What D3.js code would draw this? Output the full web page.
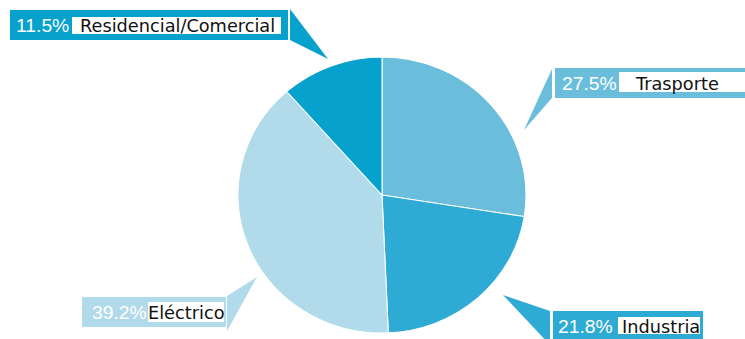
<!DOCTYPE html>
<html>
<head>
<meta charset="utf-8">
<script src="https://cdn.jsdelivr.net/npm/d3@7"></script>
<style>
  html, body { margin: 0; padding: 0; background: #fff; }
  svg { display: block; }
</style>
</head>
<body>
<svg id="chart" width="745" height="339"></svg>
<script>
// Energy use by sector, share of total (%)
const categories = ["Trasporte", "Industria", "Eléctrico", "Residencial/Comercial"];
const shares = [27.5, 21.8, 39.2, 11.5];
const percentLabels = ["27.5%", "21.8%", "39.2%", "11.5%"];
const sliceColors = ["#6bbddc", "#2eabd5", "#b1daeb", "#06a2cd"];

// Callout geometry: coloured box, white name box, text anchors, pointer tip
const callouts = [
  { box: [555, 68, 200, 30], nameBox: [619, 72, 140, 20], pctX: 562, nameX: 636, base: 90,
    pointer: [[552, 69], [524, 130], [552, 98]] },
  { box: [553, 311, 150, 32], nameBox: [618, 317, 82, 17], pctX: 558, nameX: 622, base: 333,
    pointer: [[550, 311], [503, 295], [550, 345]] },
  { box: [82, 297, 144, 30], nameBox: [148, 302, 76, 20], pctX: 92, nameX: 148, base: 319,
    pointer: [[227, 296], [257, 277], [227, 331]] },
  { box: [10, 10, 278, 30], nameBox: [72, 17, 209, 17], pctX: 16, nameX: 80, base: 32,
    pointer: [[290, 9], [328, 59], [290, 40]] }
];

const svg = d3.select("#chart");
const cx = 382, cy = 195, radius = 138, stretchX = 144 / 138;

const pie = d3.pie().sort(null).value(d => d.value);
const arc = d3.arc().innerRadius(0).outerRadius(radius);
const rows = categories.map((c, i) => ({ name: c, value: shares[i], pct: percentLabels[i], color: sliceColors[i], layout: callouts[i] }));

// Pie (slightly wider than tall)
svg.append("g")
  .attr("transform", `translate(${cx},${cy}) scale(${stretchX},1)`)
  .selectAll("path")
  .data(pie(rows))
  .join("path")
  .attr("d", arc)
  .attr("fill", d => d.data.color)
  .attr("stroke", "#ffffff")
  .attr("stroke-width", 1);

// Callouts
const lab = svg.append("g").selectAll("g").data(rows).join("g");

lab.append("polygon")
  .attr("points", d => d.layout.pointer.map(p => p.join(",")).join(" "))
  .attr("fill", d => d.color);

lab.append("rect")
  .attr("x", d => d.layout.box[0]).attr("y", d => d.layout.box[1])
  .attr("width", d => d.layout.box[2]).attr("height", d => d.layout.box[3])
  .attr("fill", d => d.color);

lab.append("rect")
  .attr("x", d => d.layout.nameBox[0]).attr("y", d => d.layout.nameBox[1])
  .attr("width", d => d.layout.nameBox[2]).attr("height", d => d.layout.nameBox[3])
  .attr("fill", "#ffffff");

lab.append("text")
  .attr("transform", d => `translate(${d.layout.pctX},${d.layout.base}) scale(${stretchX},1)`)
  .attr("font-family", "'Liberation Sans', Arial, sans-serif")
  .attr("font-size", 18.5)
  .attr("fill", "#ffffff")
  .text(d => d.pct);

lab.append("text")
  .attr("transform", d => `translate(${d.layout.nameX},${d.layout.base}) scale(${stretchX},1)`)
  .attr("font-family", "'DejaVu Sans', Verdana, sans-serif")
  .attr("font-size", 17)
  .attr("fill", "#111111")
  .text(d => d.name);
</script>
</body>
</html>
